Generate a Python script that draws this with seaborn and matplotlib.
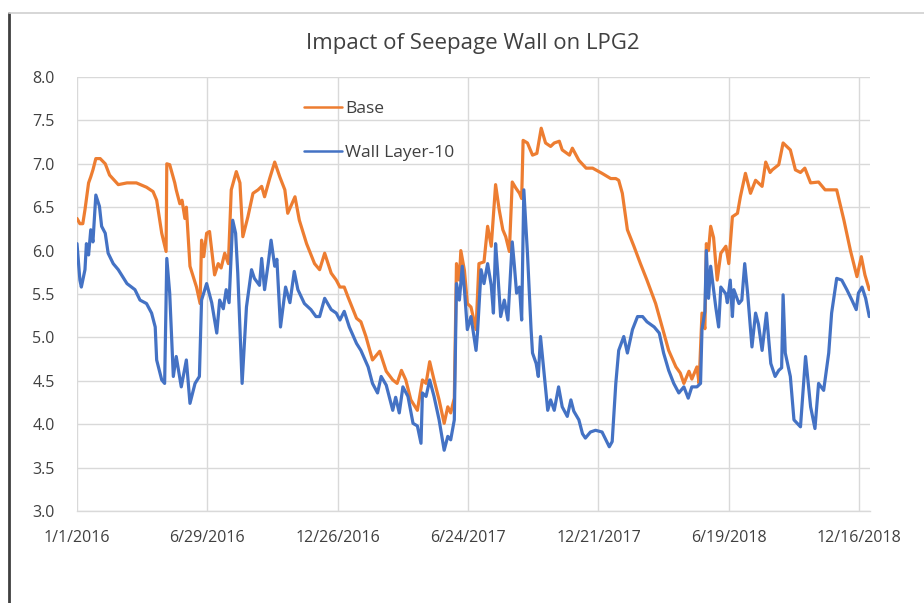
import numpy as np
import pandas as pd
import matplotlib
matplotlib.use("Agg")
import matplotlib.pyplot as plt
import matplotlib.dates as mdates
from matplotlib.ticker import FixedLocator, FuncFormatter
from matplotlib.lines import Line2D
import seaborn as sns

# ---- data (day offsets from 1/1/2016) ----
start_date = "2016-01-01"
base_days = [0, 4, 8, 11, 16, 19, 22, 26, 32, 39, 45, 57, 69, 82, 96, 105, 110, 117, 123,
             124, 128, 135, 137, 142, 145, 149, 151, 156, 165, 170, 172, 175, 179, 183, 190,
             195, 199, 204, 209, 213, 220, 225, 229, 236, 243, 250, 255, 259, 266, 273, 280,
             287, 291, 301, 307, 317, 328, 335, 342, 351, 358, 363, 369, 374, 386, 392, 399,
             408, 418, 427, 436, 442, 448, 454, 461, 470, 477, 482, 487, 493, 500, 507, 512,
             516, 521, 524, 528, 530, 535, 539, 544, 551, 555, 562, 567, 572, 578, 583, 588,
             592, 597, 601, 606, 611, 614, 616, 622, 629, 635, 641, 647, 654, 659, 666, 670,
             680, 684, 693, 703, 712, 725, 737, 744, 748, 753, 760, 769, 778, 787, 799, 808,
             817, 827, 833, 838, 845, 849, 856, 859, 863, 867, 869, 872, 875, 879, 884, 889,
             896, 900, 905, 912, 916, 923, 930, 937, 946, 951, 957, 960, 969, 975, 985, 992,
             999, 1005, 1013, 1024, 1033, 1049, 1059, 1068, 1077, 1083, 1088, 1094]
base_values = [6.37, 6.31, 6.31, 6.47, 6.78, 6.85, 6.93, 7.06, 7.06, 7.00, 6.87, 6.76, 6.78,
               6.78, 6.73, 6.68, 6.58, 6.20, 5.99, 7.00, 6.99, 6.78, 6.70, 6.54, 6.58, 6.37,
               6.50, 5.82, 5.58, 5.39, 6.12, 5.93, 6.20, 6.22, 5.72, 5.85, 5.80, 5.97, 5.85,
               6.70, 6.91, 6.78, 6.16, 6.39, 6.66, 6.70, 6.74, 6.62, 6.83, 7.02, 6.85, 6.70,
               6.43, 6.62, 6.35, 6.08, 5.85, 5.78, 5.97, 5.74, 5.66, 5.58, 5.58, 5.47, 5.22,
               5.18, 5.01, 4.74, 4.84, 4.61, 4.51, 4.47, 4.62, 4.51, 4.28, 4.16, 4.51, 4.47,
               4.72, 4.51, 4.28, 4.01, 4.20, 4.13, 4.30, 5.85, 5.66, 6.00, 5.77, 5.39, 5.35,
               5.09, 5.85, 5.87, 6.28, 6.05, 6.76, 6.47, 6.24, 6.16, 5.99, 6.79, 6.72, 6.66,
               6.60, 7.27, 7.24, 7.10, 7.12, 7.41, 7.24, 7.20, 7.24, 7.26, 7.16, 7.10, 7.18,
               7.04, 6.95, 6.95, 6.89, 6.83, 6.83, 6.81, 6.66, 6.24, 6.05, 5.85, 5.66, 5.39,
               5.12, 4.85, 4.66, 4.59, 4.47, 4.61, 4.52, 4.66, 4.47, 5.28, 5.10, 6.08, 6.00,
               6.28, 6.15, 5.66, 5.97, 6.05, 5.85, 6.39, 6.43, 6.62, 6.89, 6.66, 6.81, 6.74,
               7.02, 6.90, 6.93, 6.99, 7.24, 7.16, 6.93, 6.90, 6.95, 6.78, 6.79, 6.70, 6.70,
               6.35, 6.00, 5.70, 5.93, 5.72, 5.55]

wall_days = [0, 4, 6, 11, 13, 16, 19, 22, 26, 31, 34, 39, 43, 50, 57, 69, 80, 87, 96, 103,
             108, 110, 117, 121, 124, 128, 133, 137, 144, 151, 156, 163, 169, 172, 179, 186,
             193, 197, 202, 206, 210, 215, 219, 222, 228, 234, 241, 245, 252, 255, 259, 264,
             268, 273, 276, 281, 288, 294, 300, 305, 314, 323, 330, 335, 342, 351, 358, 363,
             369, 376, 386, 392, 402, 408, 415, 420, 427, 436, 440, 445, 450, 457, 464, 470,
             475, 477, 482, 487, 493, 500, 507, 512, 516, 521, 524, 528, 532, 535, 539, 544,
             551, 553, 558, 562, 567, 572, 575, 578, 581, 585, 590, 595, 601, 604, 607, 611,
             614, 617, 622, 627, 629, 634, 637, 640, 645, 650, 654, 659, 665, 670, 677, 682,
             686, 693, 698, 702, 709, 716, 725, 735, 739, 744, 748, 755, 760, 767, 774, 781,
             787, 797, 804, 810, 817, 824, 831, 838, 844, 849, 856, 861, 863, 867, 869, 872,
             875, 882, 886, 889, 896, 898, 902, 905, 907, 914, 918, 922, 926, 932, 937, 941,
             946, 952, 958, 964, 969, 973, 975, 978, 985, 990, 999, 1006, 1013, 1019, 1024,
             1031, 1038, 1042, 1049, 1056, 1063, 1070, 1076, 1079, 1084, 1089, 1094]
wall_values = [6.08, 5.66, 5.58, 5.78, 6.08, 5.95, 6.24, 6.10, 6.64, 6.51, 6.28, 6.20, 5.97,
               5.85, 5.78, 5.62, 5.55, 5.43, 5.39, 5.28, 5.12, 4.74, 4.51, 4.47, 5.91, 5.51,
               4.55, 4.78, 4.43, 4.74, 4.24, 4.47, 4.55, 5.43, 5.62, 5.40, 5.05, 5.43, 5.33,
               5.55, 5.40, 6.35, 6.20, 5.74, 4.47, 5.35, 5.78, 5.68, 5.60, 5.91, 5.55, 5.85,
               6.12, 5.82, 5.90, 5.12, 5.58, 5.40, 5.76, 5.55, 5.39, 5.32, 5.24, 5.24, 5.45,
               5.32, 5.28, 5.20, 5.30, 5.12, 4.93, 4.85, 4.66, 4.47, 4.36, 4.55, 4.45, 4.16,
               4.31, 4.13, 4.43, 4.32, 4.01, 3.98, 3.78, 4.36, 4.32, 4.51, 4.32, 4.05, 3.70,
               3.86, 3.82, 4.05, 5.62, 5.43, 5.82, 5.55, 5.09, 5.24, 4.85, 5.05, 5.78, 5.62,
               5.85, 5.60, 5.28, 6.08, 5.74, 5.24, 5.43, 5.20, 6.10, 5.82, 5.51, 5.58, 5.20,
               6.70, 5.97, 5.09, 4.82, 4.70, 4.55, 5.01, 4.59, 4.16, 4.28, 4.16, 4.43, 4.20,
               4.09, 4.28, 4.15, 4.05, 3.89, 3.84, 3.91, 3.93, 3.91, 3.74, 3.80, 4.47, 4.85,
               5.01, 4.82, 5.09, 5.24, 5.24, 5.18, 5.12, 5.05, 4.82, 4.62, 4.47, 4.36, 4.43,
               4.30, 4.43, 4.43, 4.47, 5.09, 5.30, 6.00, 5.45, 5.82, 5.35, 5.12, 5.58, 5.50,
               5.40, 5.66, 5.24, 5.55, 5.39, 5.43, 5.85, 5.51, 4.89, 5.28, 5.15, 4.85, 5.28,
               4.70, 4.55, 4.62, 4.65, 5.49, 4.82, 4.55, 4.05, 3.97, 4.78, 4.20, 3.95, 4.47,
               4.39, 4.82, 5.28, 5.68, 5.66, 5.55, 5.43, 5.32, 5.51, 5.58, 5.45, 5.24]

series_names = ["Base", "Wall Layer-10"]
tick_days = [0, 180, 360, 540, 720, 900, 1080]
title_text = "Impact of Seepage Wall on LPG2"
y_ticks = [3.0, 3.5, 4.0, 4.5, 5.0, 5.5, 6.0, 6.5, 7.0, 7.5, 8.0]

# ---- build frame ----
t0 = pd.Timestamp(start_date)
df = pd.concat([
    pd.DataFrame({"date": t0 + pd.to_timedelta(base_days, unit="D"),
                  "value": base_values, "series": series_names[0]}),
    pd.DataFrame({"date": t0 + pd.to_timedelta(wall_days, unit="D"),
                  "value": wall_values, "series": series_names[1]}),
], ignore_index=True)

sns.set_theme(style="white")
plt.rcParams["font.family"] = ["Open Sans", "DejaVu Sans"]

text_color = "#404040"
grid_color = "#D9D9D9"
palette = {series_names[0]: "#ED7D31", series_names[1]: "#4472C4"}

fig = plt.figure(figsize=(9.24, 6.03), dpi=100)
fig.patch.set_facecolor("white")
ax = fig.add_axes([77 / 924, 1 - 511 / 603, (870 - 77) / 924, (511 - 77) / 603])

sns.lineplot(data=df, x="date", y="value", hue="series", palette=palette,
             linewidth=2.3, ax=ax, legend=False, estimator=None, sort=False)

ax.set_xlim(t0, t0 + pd.Timedelta(days=1095))
ax.set_ylim(3.0, 8.0)
ax.set_yticks(y_ticks)
ax.yaxis.set_major_formatter(FuncFormatter(lambda v, p: f"{v:.1f}"))

major_dates = [mdates.date2num(t0 + pd.Timedelta(days=d)) for d in tick_days]
ax.xaxis.set_major_locator(FixedLocator(major_dates))
minor_dates = [mdates.date2num(t0 + pd.Timedelta(days=d)) for d in range(0, 1095, 30)]
ax.xaxis.set_minor_locator(FixedLocator(minor_dates))

def fmt_date(x, pos):
    d = mdates.num2date(x)
    return f"{d.month}/{d.day}/{d.year}"

ax.xaxis.set_major_formatter(FuncFormatter(fmt_date))

ax.grid(True, which="major", color=grid_color, linewidth=1.0)
ax.set_axisbelow(True)
for side in ["top", "right", "left"]:
    ax.spines[side].set_visible(False)
ax.spines["bottom"].set_color(grid_color)
ax.spines["bottom"].set_linewidth(1.0)

ax.tick_params(axis="x", which="major", length=0, pad=14, labelsize=11.5, labelcolor=text_color)
ax.tick_params(axis="x", which="minor", direction="in", length=5, color=grid_color, width=1)
ax.tick_params(axis="y", length=0, pad=16, labelsize=11.5, labelcolor=text_color)
ax.set_xlabel("")
ax.set_ylabel("")

fig.text(473 / 924, 1 - 43 / 603, title_text, ha="center", va="center",
         fontsize=16, color=text_color)

handles = [Line2D([], [], color=palette[n], linewidth=1.8) for n in series_names]
fig.legend(handles, series_names, loc="upper left",
           bbox_to_anchor=(304 / 924, 1 - 101 / 603), frameon=False,
           fontsize=12.5, labelcolor=text_color, handlelength=2.2,
           handletextpad=0.15, labelspacing=1.6, borderpad=0, borderaxespad=0)

# outer frame pieces (chart border)
fig.add_artist(Line2D([9 / 924, 9 / 924], [0, 1 - 13 / 603], transform=fig.transFigure,
                      color="#404040", linewidth=2))
fig.add_artist(Line2D([9 / 924, 1], [1 - 13 / 603, 1 - 13 / 603], transform=fig.transFigure,
                      color="#D0D0D0", linewidth=1.2))

fig.savefig("out.png", dpi=100, facecolor="white")
